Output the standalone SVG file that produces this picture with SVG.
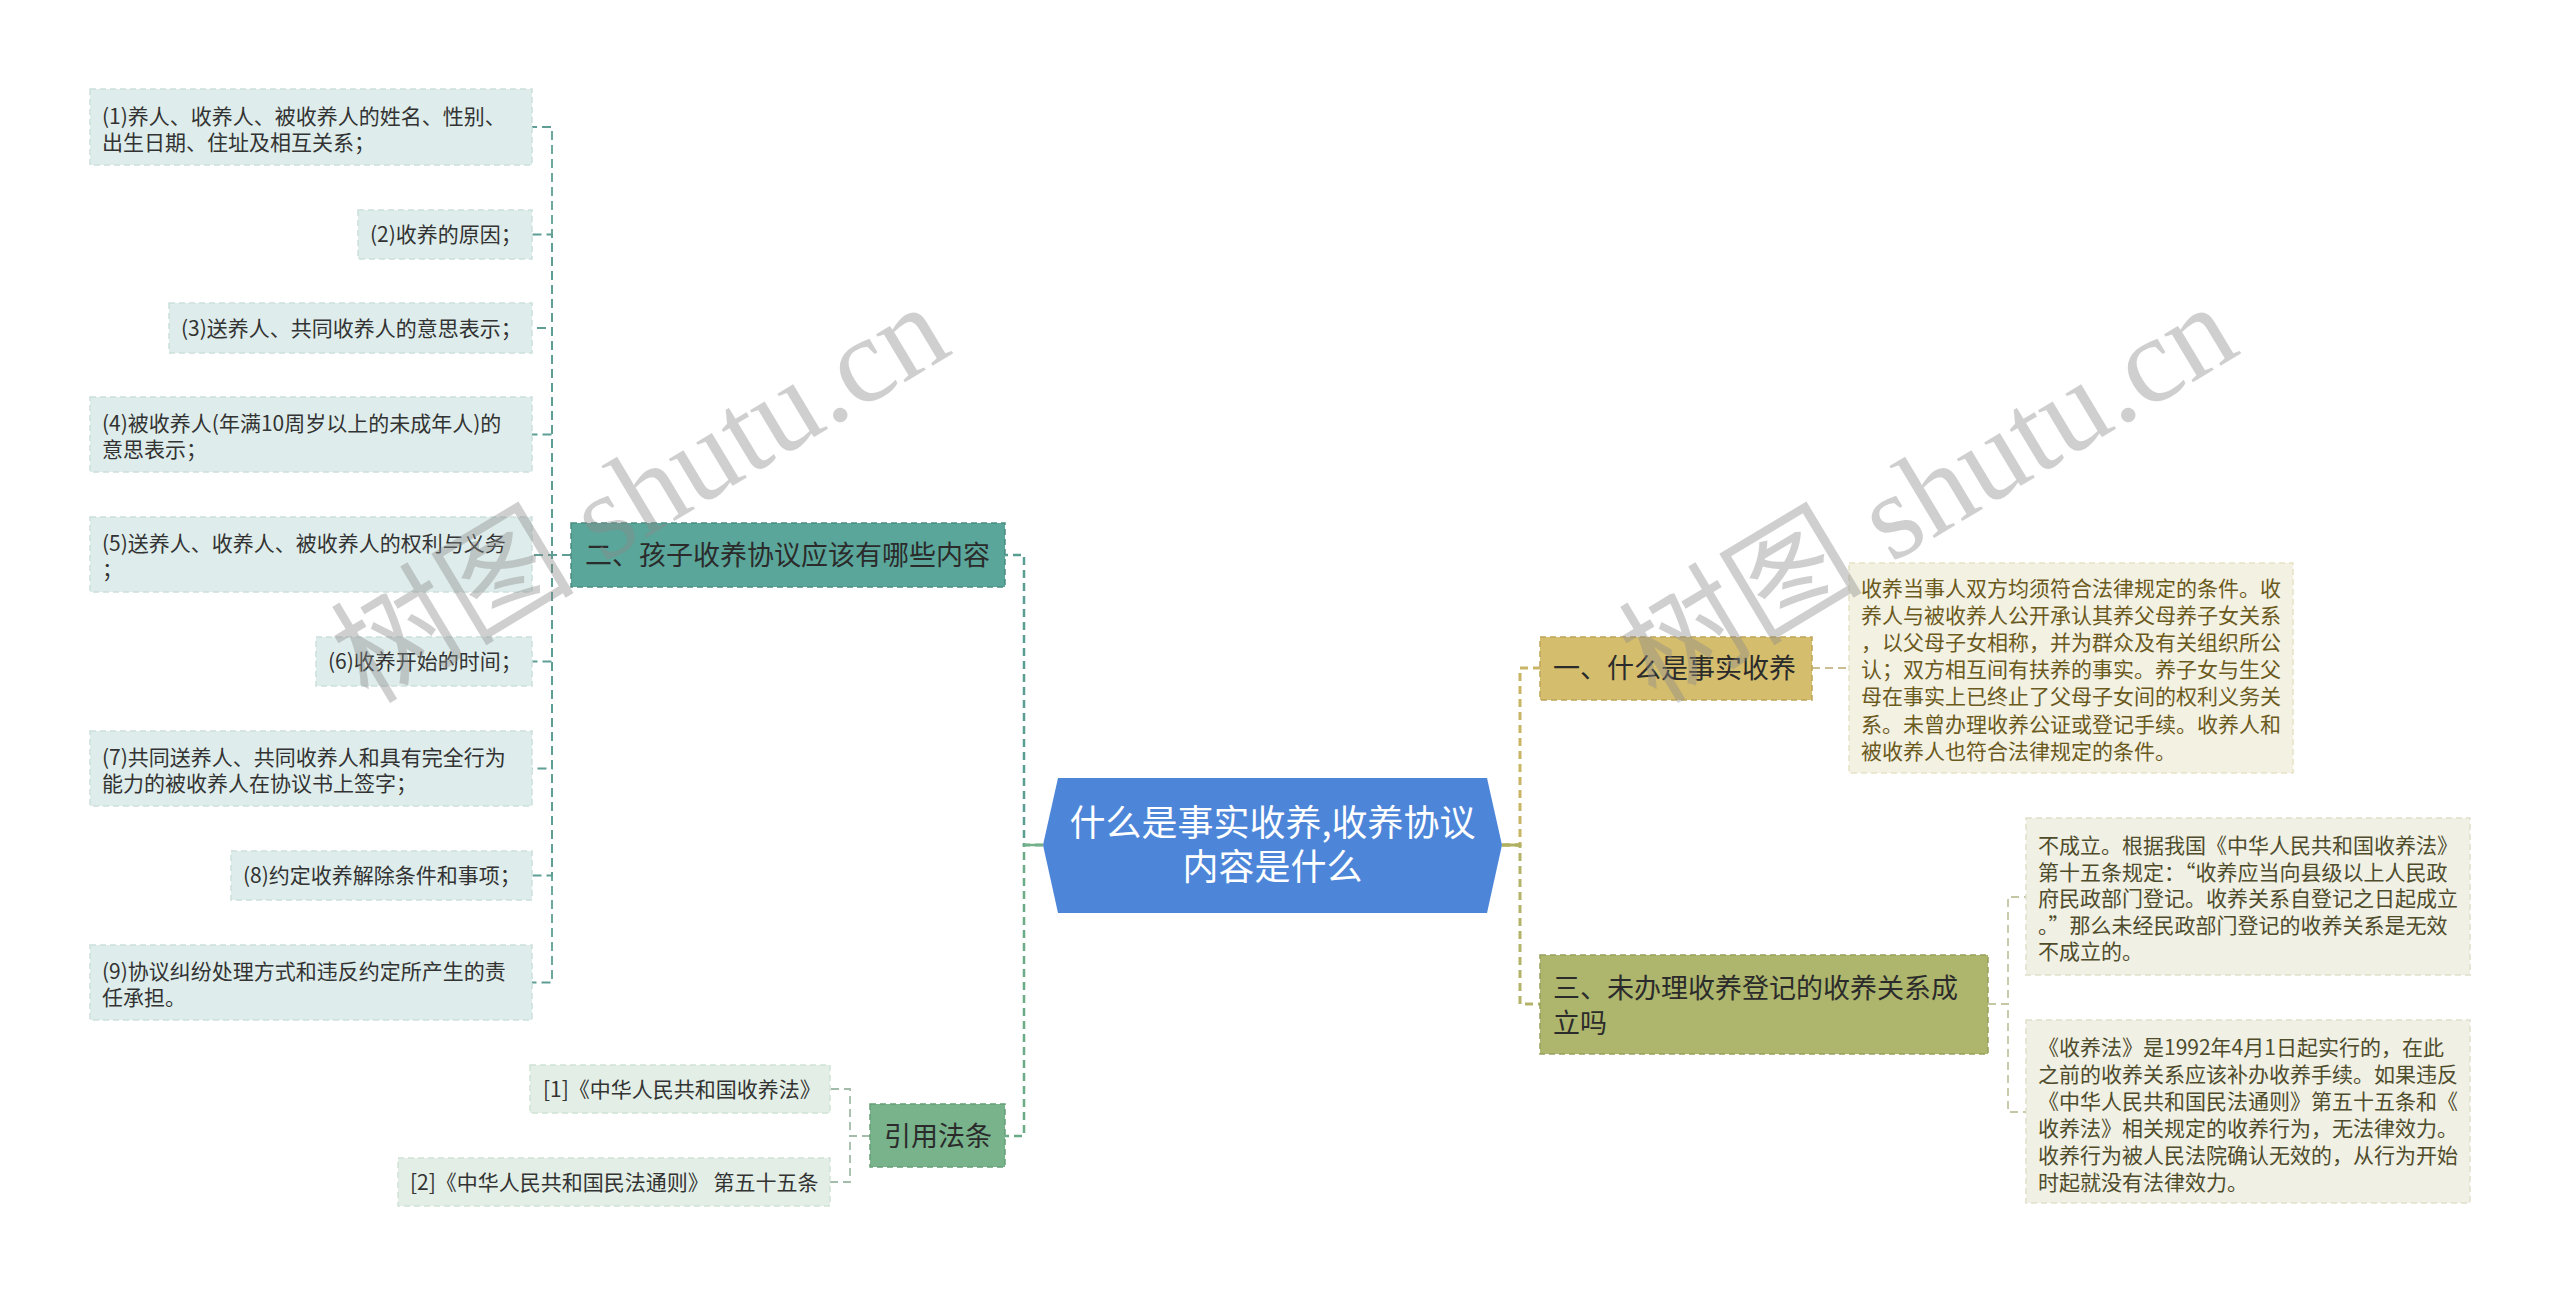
<svg xmlns="http://www.w3.org/2000/svg" width="2560" height="1297" viewBox="0 0 2560 1297">
<style>
text{font-family:"Noto Sans CJK SC","Noto Sans",sans-serif;}
.leaf{fill:#deedeb;stroke:#cbe0dc;stroke-width:1.5;stroke-dasharray:6 4;}
.law{fill:#e3efe6;stroke:#d0e2d5;stroke-width:1.5;stroke-dasharray:6 4;}
.t21{font-size:21px;fill:#333333;}
.t27{font-size:27px;fill:#2b2b2b;}
.d1box{fill:#f3f1e2;stroke:#e6e2c8;stroke-width:1.5;stroke-dasharray:6 4;}
.d1txt{font-size:21px;fill:#6b5a1e;}
.d3box{fill:#f0f0e5;stroke:#e0e0cc;stroke-width:1.5;stroke-dasharray:6 4;}
.d3txt{font-size:21px;fill:#4f4c2c;}
.lk{fill:none;stroke-dasharray:8 5;}
.wm{font-family:"Liberation Serif","Noto Sans CJK SC",serif;font-size:122px;fill:#8a8a8a;opacity:0.4;}
</style>
<g id="connectors">
<path class="lk" d="M1043,845 H1024 V555 H1005" stroke="#5a9e92" stroke-width="2.5"/>
<path class="lk" d="M1043,845 H1024 V1136 H1005" stroke="#6aaa86" stroke-width="2.5"/>
<path d="M1043,845 H1024" stroke="#74b088" stroke-width="2.5" fill="none"/>
<path class="lk" d="M1502,845 H1520 V668 H1540" stroke="#c9b566" stroke-width="3"/>
<path class="lk" d="M1502,845 H1520 V1004 H1540" stroke="#b3b46a" stroke-width="3"/>
<path d="M1502,845 H1520" stroke="#aeb062" stroke-width="3" fill="none"/>
<g stroke="#5e9e94" stroke-width="1.8" fill="none" stroke-dasharray="9 5">
<path d="M571,555 H552 V127 H532"/>
<path d="M571,555 H552 V234.5 H532"/>
<path d="M571,555 H552 V328 H532"/>
<path d="M571,555 H552 V434.5 H532"/>
<path d="M571,555 H532"/>
<path d="M571,555 H552 V661.5 H532"/>
<path d="M571,555 H552 V768.5 H532"/>
<path d="M571,555 H552 V875.5 H532"/>
<path d="M571,555 H552 V982.5 H532"/>
</g>
<g stroke="#a3bca9" stroke-width="1.8" fill="none" stroke-dasharray="8 5">
<path d="M870,1136 H850 V1089 H830"/>
<path d="M870,1136 H850 V1182 H830"/>
</g>
<path d="M1812,668 H1849" stroke="#cbbd92" stroke-width="1.8" fill="none" stroke-dasharray="8 5"/>
<g stroke="#c4c6a4" stroke-width="1.8" fill="none" stroke-dasharray="8 5">
<path d="M1988,1004 H2008 V897 H2026"/>
<path d="M1988,1004 H2008 V1112 H2026"/>
</g>
</g>
<g id="center">
<polygon points="1043,845 1058,778 1487,778 1502,845 1487,913 1058,913" fill="#4d86d9"/>
<text x="1272.5" y="836" font-size="36" fill="#ffffff" text-anchor="middle">什么是事实收养,收养协议</text>
<text x="1272.5" y="880" font-size="36" fill="#ffffff" text-anchor="middle">内容是什么</text>
</g>
<g id="n2">
<rect x="571" y="523" width="434" height="64" fill="#5aa69a" stroke="#4a8d82" stroke-width="1.5" stroke-dasharray="6 4"/>
<text class="t27" x="585" y="565">二、孩子收养协议应该有哪些内容</text>
</g>
<g id="leaf1"><rect class="leaf" x="90" y="89" width="442" height="76"/>
<text class="t21" x="102" y="124">(1)养人、收养人、被收养人的姓名、性别、</text>
<text class="t21" x="102" y="150">出生日期、住址及相互关系；</text></g>
<g id="leaf2"><rect class="leaf" x="358" y="210" width="174" height="49"/>
<text class="t21" x="370" y="242">(2)收养的原因；</text></g>
<g id="leaf3"><rect class="leaf" x="169" y="303" width="363" height="50"/>
<text class="t21" x="181" y="335.5">(3)送养人、共同收养人的意思表示；</text></g>
<g id="leaf4"><rect class="leaf" x="90" y="397" width="442" height="75"/>
<text class="t21" x="102" y="431">(4)被收养人(年满10周岁以上的未成年人)的</text>
<text class="t21" x="102" y="457">意思表示；</text></g>
<g id="leaf5"><rect class="leaf" x="90" y="517" width="442" height="75"/>
<text class="t21" x="102" y="551">(5)送养人、收养人、被收养人的权利与义务</text>
<text class="t21" x="102" y="577">；</text></g>
<g id="leaf6"><rect class="leaf" x="316" y="637" width="216" height="49"/>
<text class="t21" x="328" y="669">(6)收养开始的时间；</text></g>
<g id="leaf7"><rect class="leaf" x="90" y="731" width="442" height="75"/>
<text class="t21" x="102" y="765">(7)共同送养人、共同收养人和具有完全行为</text>
<text class="t21" x="102" y="791">能力的被收养人在协议书上签字；</text></g>
<g id="leaf8"><rect class="leaf" x="231" y="851" width="301" height="49"/>
<text class="t21" x="243" y="883">(8)约定收养解除条件和事项；</text></g>
<g id="leaf9"><rect class="leaf" x="90" y="945" width="442" height="75"/>
<text class="t21" x="102" y="979">(9)协议纠纷处理方式和违反约定所产生的责</text>
<text class="t21" x="102" y="1005">任承担。</text></g>
<g id="law">
<rect x="870" y="1104" width="135" height="63" fill="#78b38b" stroke="#66a077" stroke-width="1.5" stroke-dasharray="6 4"/>
<text class="t27" x="884" y="1146">引用法条</text>
</g>
<g id="law1"><rect class="law" x="530" y="1065" width="300" height="48"/>
<text class="t21" x="543" y="1096.5">[1]《中华人民共和国收养法》</text></g>
<g id="law2"><rect class="law" x="398" y="1158" width="432" height="48"/>
<text class="t21" x="410" y="1189.5">[2]《中华人民共和国民法通则》 第五十五条</text></g>
<g id="n1">
<rect x="1540" y="637" width="272" height="63" fill="#d4bd6d" stroke="#bda457" stroke-width="1.5" stroke-dasharray="6 4"/>
<text class="t27" x="1553" y="678">一、什么是事实收养</text>
</g>
<g id="d1">
<rect class="d1box" x="1849" y="563" width="444" height="210"/>
<text class="d1txt" x="1861" y="595.5">收养当事人双方均须符合法律规定的条件。收</text>
<text class="d1txt" x="1861" y="622.7">养人与被收养人公开承认其养父母养子女关系</text>
<text class="d1txt" x="1861" y="649.9">，以父母子女相称，并为群众及有关组织所公</text>
<text class="d1txt" x="1861" y="677.1">认；双方相互间有扶养的事实。养子女与生父</text>
<text class="d1txt" x="1861" y="704.3">母在事实上已终止了父母子女间的权利义务关</text>
<text class="d1txt" x="1861" y="731.5">系。未曾办理收养公证或登记手续。收养人和</text>
<text class="d1txt" x="1861" y="758.7">被收养人也符合法律规定的条件。</text>
</g>
<g id="n3">
<rect x="1540" y="955" width="448" height="99" fill="#adb66c" stroke="#98a05a" stroke-width="1.5" stroke-dasharray="6 4"/>
<text class="t27" x="1553" y="998">三、未办理收养登记的收养关系成</text>
<text class="t27" x="1553" y="1032.5">立吗</text>
</g>
<g id="d3a">
<rect class="d3box" x="2026" y="818" width="444" height="157"/>
<text class="d3txt" x="2038" y="853">不成立。根据我国《中华人民共和国收养法》</text>
<text class="d3txt" x="2038" y="879.5">第十五条规定：“收养应当向县级以上人民政</text>
<text class="d3txt" x="2038" y="906">府民政部门登记。收养关系自登记之日起成立</text>
<text class="d3txt" x="2038" y="932.5">。”那么未经民政部门登记的收养关系是无效</text>
<text class="d3txt" x="2038" y="959">不成立的。</text>
</g>
<g id="d3b">
<rect class="d3box" x="2026" y="1020" width="444" height="183"/>
<text class="d3txt" x="2038" y="1054.5">《收养法》是1992年4月1日起实行的，在此</text>
<text class="d3txt" x="2038" y="1081.5">之前的收养关系应该补办收养手续。如果违反</text>
<text class="d3txt" x="2038" y="1108.5">《中华人民共和国民法通则》第五十五条和《</text>
<text class="d3txt" x="2038" y="1135.5">收养法》相关规定的收养行为，无法律效力。</text>
<text class="d3txt" x="2038" y="1162.5">收养行为被人民法院确认无效的，从行为开始</text>
<text class="d3txt" x="2038" y="1189.5">时起就没有法律效力。</text>
</g>
<g id="watermark">
<text class="wm" x="368" y="705" transform="rotate(-31 368 705)">树图 shutu.cn</text>
<text class="wm" x="1656" y="705" transform="rotate(-31 1656 705)">树图 shutu.cn</text>
</g>
</svg>
